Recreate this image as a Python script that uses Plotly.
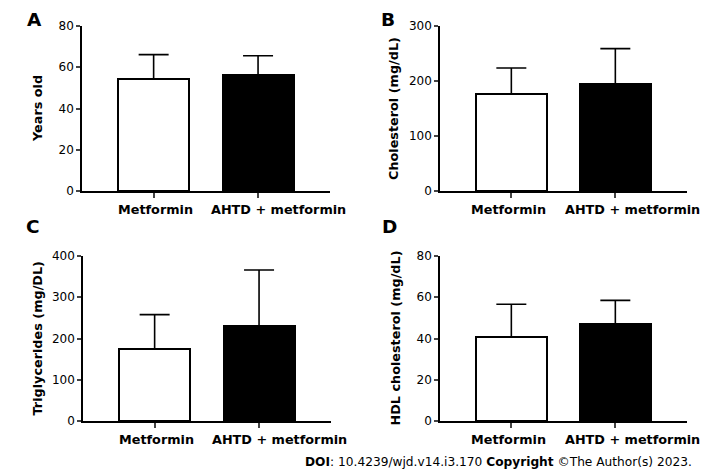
import plotly.graph_objs as go

W, H = 708, 476
OFF = 8  # the page body margin moves the figure by 8px

groups = ["Metformin", "AHTD + metformin"]
age_mean = [54.2, 56.1]
age_upper = [66.1, 65.6]
chol_mean = [175.8, 194.0]
chol_upper = [223.6, 258.9]
trig_mean = [173.8, 230.3]
trig_upper = [258.0, 366.0]
hdl_mean = [40.6, 47.0]
hdl_upper = [56.6, 58.5]

panels = [
    # letter, y title, mean, upper, ymax, dtick
    ("A", "Years old", age_mean, age_upper, 80, 20),
    ("B", "Cholesterol (mg/dL)", chol_mean, chol_upper, 300, 100),
    ("C", "Triglycerides (mg/DL)", trig_mean, trig_upper, 400, 100),
    ("D", "HDL cholesterol (mg/dL)", hdl_mean, hdl_upper, 80, 20),
]

# pixel boxes of each plot area: x0, x1, ytop, ybottom
boxes = [(82, 330, 26, 191), (440, 687, 26, 191),
         (83, 331, 256, 421), (440, 687, 256, 421)]
# letter x centre and top of its text box
letter_pos = [(34, 8), (388, 8), (33, 215), (389, 215)]
ytitle_x = [37.5, 393.5, 37, 395]
label_shift = [(1.5, 20.5), (-2.5, 17), (1.5, 20.5), (-2.5, 17)]


def px(v):
    return (v - OFF) / W


def py(v):
    return 1 - (v - OFF) / H


FONT = "Verdana, DejaVu Sans, sans-serif"
bar_colors = ["white", "black"]

fig = go.Figure()
layout = dict(width=W, height=H,
              margin=dict(l=0, r=0, t=0, b=0, pad=0, autoexpand=False),
              plot_bgcolor="white", paper_bgcolor="white",
              showlegend=False, font=dict(family=FONT, color="black"),
              bargap=0)
annotations = []

for k, (letter, ytitle, mean, upper, ymax, dtick) in enumerate(panels):
    n = "" if k == 0 else str(k + 1)
    x0, x1, yt, yb = boxes[k]
    err = [u - m for u, m in zip(upper, mean)]
    fig.add_trace(go.Bar(
        x=[0, 1], y=mean, width=0.68,
        marker=dict(color=bar_colors, line=dict(color="black", width=2)),
        error_y=dict(type="data", symmetric=False, array=err, arrayminus=[0, 0],
                     color="black", thickness=1.6, width=15),
        xaxis="x" + n, yaxis="y" + n))
    layout["xaxis" + n] = dict(
        domain=[px(x0), px(x1)], anchor="y" + n, range=[-0.686, 1.689],
        tickvals=[0, 1], showticklabels=False, ticks="outside", ticklen=5, tickwidth=1.5,
        showline=True, linecolor="black", linewidth=1.6, showgrid=False, zeroline=False,
        automargin=False, fixedrange=True)
    layout["yaxis" + n] = dict(
        domain=[py(yb), py(yt)], anchor="x" + n, range=[0, ymax], dtick=dtick,
        ticks="outside", ticklen=4, tickwidth=1.5, showline=True, linecolor="black",
        linewidth=1.6, showgrid=False, zeroline=False, automargin=False,
        tickfont=dict(size=12), fixedrange=True)
    # category labels under the ticks
    for i, g in enumerate(groups):
        annotations.append(dict(text="<b>%s</b>" % g, x=i, xref="x" + n,
                                y=py(yb + 9), yref="paper", xshift=label_shift[k][i],
                                showarrow=False, xanchor="center", yanchor="top",
                                font=dict(size=12.8)))
    lx, ly = letter_pos[k]
    annotations.append(dict(text="<b>%s</b>" % letter, x=px(lx), y=py(ly),
                            xref="paper", yref="paper", showarrow=False, borderpad=0,
                            font=dict(size=18.5), xanchor="center", yanchor="top"))
    annotations.append(dict(text="<b>%s</b>" % ytitle, x=px(ytitle_x[k]),
                            y=py((yt + yb) / 2), xref="paper", yref="paper",
                            showarrow=False, textangle=-90, font=dict(size=12.8),
                            xanchor="center", yanchor="middle"))

annotations.append(dict(
    text="<b>DOI</b>: 10.4239/wjd.v14.i3.170 <b>Copyright</b> ©The Author(s) 2023.",
    x=px(694), y=py(462), xref="paper", yref="paper", showarrow=False,
    xanchor="right", yanchor="middle", font=dict(size=12.2)))

layout["annotations"] = annotations
fig.update_layout(layout)
fig.write_html("out.html")
